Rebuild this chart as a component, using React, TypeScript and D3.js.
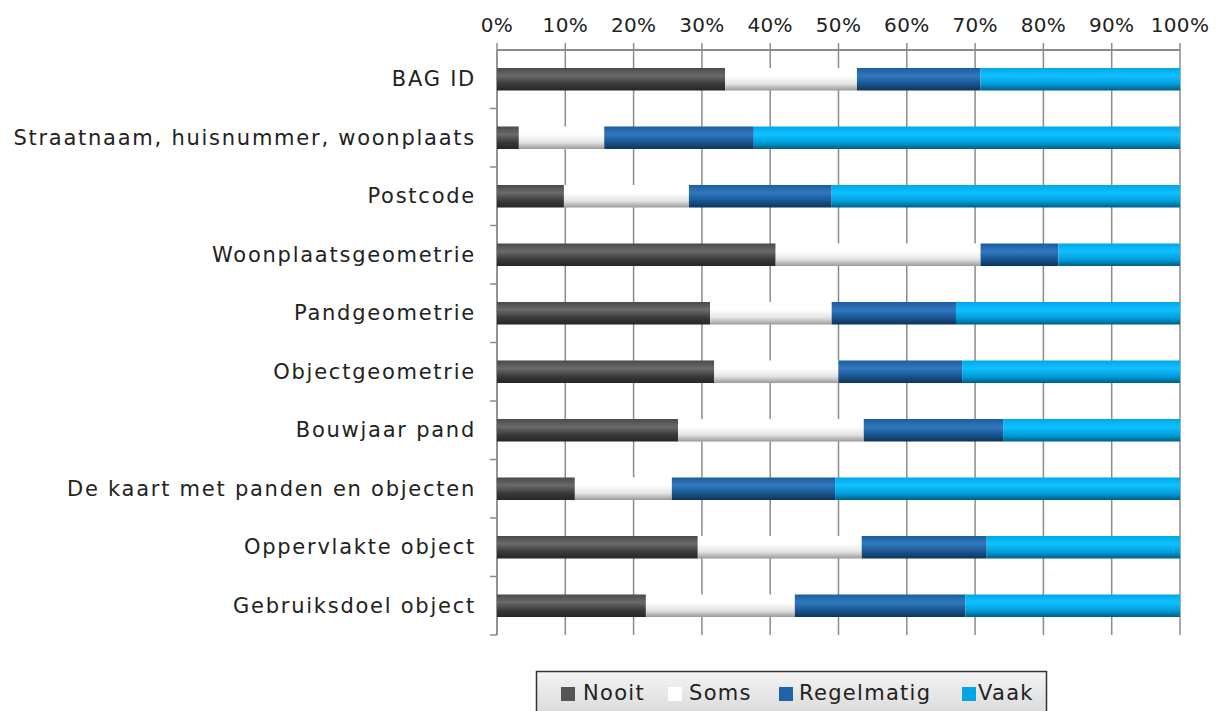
import React from "react";
import * as d3 from "d3";

const categories = [
  "BAG ID",
  "Straatnaam, huisnummer, woonplaats",
  "Postcode",
  "Woonplaatsgeometrie",
  "Pandgeometrie",
  "Objectgeometrie",
  "Bouwjaar pand",
  "De kaart met panden en objecten",
  "Oppervlakte object",
  "Gebruiksdoel object",
];
const seriesNames = ["Nooit", "Soms", "Regelmatig", "Vaak"];
const nooit = [33.4, 3.2, 9.8, 40.8, 31.2, 31.8, 26.5, 11.4, 29.4, 21.8];
const soms = [19.3, 12.5, 18.3, 30.0, 17.8, 18.2, 27.2, 14.2, 24.0, 21.8];
const regelmatig = [18.1, 21.9, 20.9, 11.4, 18.2, 18.1, 20.4, 23.9, 18.3, 25.0];
const vaak = [29.2, 62.4, 51.0, 17.8, 32.8, 31.9, 25.9, 50.5, 28.3, 31.4];
const xTicks = [0, 10, 20, 30, 40, 50, 60, 70, 80, 90, 100];

const seriesValues = [nooit, soms, regelmatig, vaak];
const gradients = [
  ["#4a4a4a", "#6a6a6a", "#3a3a3a", "#262626"],
  ["#ffffff", "#ffffff", "#e4e4e4", "#9a9a9a"],
  ["#1c5d9c", "#3079bf", "#1a5590", "#0d3558"],
  ["#00a8e8", "#10c0ff", "#00a0dc", "#005f85"],
];
const legendColors = ["#555555", "#ffffff", "#1f62a5", "#00a6e6"];

const W = 1220;
const H = 711;
const left = 497;
const right = 1180;
const top = 50;
const bottom = 635;

export default function App() {
  const x = d3.scaleLinear().domain([0, 100]).range([left, right]);
  const y = d3.scaleBand().domain(categories).range([top, bottom]).paddingInner(0.615).paddingOuter(0.3075);
  const yb = d3.scaleBand().domain(categories).range([top, bottom]);

  const rows = categories.map((c, i) => {
    let acc = 0;
    return seriesValues.map((s, k) => {
      const x0 = acc;
      acc += s[i];
      return { c, k, x0, x1: k === 3 ? 100 : acc };
    });
  });

  const font = "'DejaVu Sans', Verdana, sans-serif";
  const legendItems = [
    { sq: 561, tx: 583 },
    { sq: 668, tx: 689 },
    { sq: 779, tx: 799 },
    { sq: 962, tx: 978 },
  ];

  return (
    <svg width={W} height={H} style={{ position: "absolute", left: 0, top: 0, background: "#fff" }} fontFamily={font}>
      <defs>
        {gradients.map((g, k) => (
          <linearGradient key={k} id={`g${k}`} x1="0" y1="0" x2="0" y2="1">
            <stop offset="0" stopColor={g[0]} />
            <stop offset="0.35" stopColor={g[1]} />
            <stop offset="0.7" stopColor={g[2]} />
            <stop offset="1" stopColor={g[3]} />
          </linearGradient>
        ))}
        <linearGradient id="lg" x1="0" y1="0" x2="0" y2="1">
          <stop offset="0" stopColor="#f4f4f4" />
          <stop offset="1" stopColor="#d6d6d6" />
        </linearGradient>
      </defs>
      {/* gridlines */}
      {xTicks.map((t) => (
        <line key={t} x1={x(t)} x2={x(t)} y1={top - 7} y2={bottom} stroke="#8c8c8c" strokeWidth={1.5} />
      ))}
      {/* top axis */}
      <line x1={left} x2={right} y1={top} y2={top} stroke="#8c8c8c" strokeWidth={2} />
      {xTicks.map((t) => (
        <text key={t} x={x(t)} y={32} textAnchor="middle" fontSize={20} letterSpacing={0.3} fill="#222">
          {t}%
        </text>
      ))}
      {/* left axis */}
      <line x1={left} x2={left} y1={top} y2={bottom} stroke="#8c8c8c" strokeWidth={1.5} />
      {categories.map((c) => (
        <line key={c} x1={left - 7} x2={left} y1={(yb(c) as number) + yb.bandwidth()} y2={(yb(c) as number) + yb.bandwidth()} stroke="#8c8c8c" strokeWidth={1.5} />
      ))}
      {/* bars */}
      {rows.map((r, i) =>
        r.map((s) => (
          <rect
            key={`${i}-${s.k}`}
            x={x(s.x0)}
            y={y(s.c)}
            width={x(s.x1) - x(s.x0)}
            height={y.bandwidth()}
            fill={`url(#g${s.k})`}
          />
        ))
      )}
      {/* category labels */}
      {categories.map((c) => (
        <text key={c} x={476} y={(yb(c) as number) + yb.bandwidth() / 2 + 7} textAnchor="end" fontSize={21} letterSpacing={1.75} fill="#222">
          {c}
        </text>
      ))}
      {/* legend */}
      <rect x={536.5} y={671.5} width={510} height={50} fill="url(#lg)" stroke="#333" strokeWidth={1.5} />
      {seriesNames.map((n, k) => (
        <g key={n}>
          <rect x={legendItems[k].sq} y={687} width={14} height={14} fill={legendColors[k]} />
          <text x={legendItems[k].tx} y={700} fontSize={21} letterSpacing={1.3} fill="#222">
            {n}
          </text>
        </g>
      ))}
    </svg>
  );
}
